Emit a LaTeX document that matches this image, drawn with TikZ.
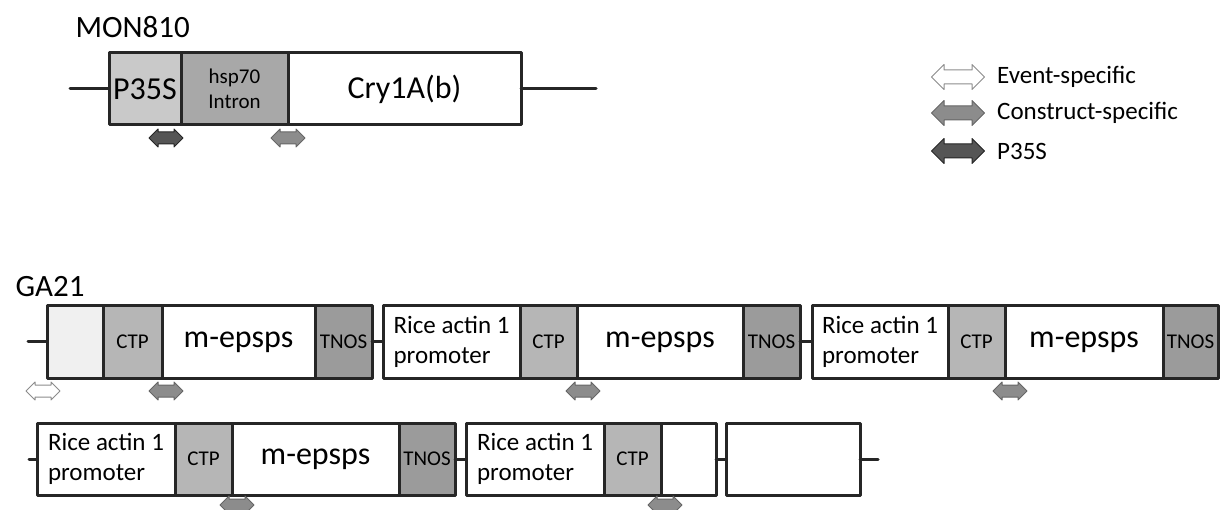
\documentclass[tikz,border=0pt]{standalone}
\usepackage{fontspec}
\setmainfont{Carlito}
\usetikzlibrary{shapes.arrows}
\definecolor{promgray}{RGB}{201,201,201}
\definecolor{introngray}{RGB}{168,168,168}
\definecolor{ctpgray}{RGB}{182,182,182}
\definecolor{tnosgray}{RGB}{155,155,155}
\definecolor{palegray}{RGB}{240,240,240}
\definecolor{constrgray}{RGB}{140,140,140}
\definecolor{p35sdark}{RGB}{85,85,85}
\begin{document}
\begin{tikzpicture}[x=1pt,y=-1pt,line join=round,line cap=round,
  cell/.style={draw=black!85, line width=3pt, minimum height=72, inner sep=0pt, outer sep=0pt, anchor=west, font=\fontsize{32}{36}\selectfont},
  tag/.style={font=\fontsize{21}{25}\selectfont, align=center},
  rice/.style={font=\fontsize{25}{30}\selectfont, align=left},
  title/.style={anchor=base west, font=\fontsize{31}{36}\selectfont},
  primer/.style={double arrow, draw, inner xsep=0pt, inner ysep=5.5pt, minimum height=34, minimum width=0pt, double arrow head extend=3pt, double arrow tip angle=90, line width=1pt},
  big/.style={minimum height=53, inner ysep=6.5pt, double arrow head extend=5.5pt},
  event/.style={fill=white, draw=black!45},
  constr/.style={fill=constrgray, draw=black!60},
  ppp/.style={fill=p35sdark, draw=black!85},
  link/.style={line width=3pt, draw=black!85}]
\useasboundingbox (0,0) rectangle (1220,510);

\node[title] (mon) at (72,38) {MON810};
\node[cell, fill=promgray, minimum width=72] (p35s) at (109,89) {P35S};
\node[cell, fill=introngray, minimum width=107, tag] (hsp) at (p35s.east) {hsp70\\Intron};
\node[cell, fill=white, minimum width=233] (cry) at (hsp.east) {Cry1A(b)\hspace{40pt}};
\coordinate (monL) at (70,89);
\coordinate (monR) at (596,89);
\draw[link] (monL) -- (p35s);
\draw[link] (cry) -- (monR);

\node[title] (ga) at (12,297) {GA21};
\node[cell, fill=palegray, minimum width=56] (blankA) at (47,342) {};
\node[cell, fill=ctpgray, minimum width=59, tag] (ctpA) at (blankA.east) {CTP};
\node[cell, fill=white, minimum width=153] (mepA) at (ctpA.east) {m-epsps};
\node[cell, fill=tnosgray, minimum width=57, tag] (tnosA) at (mepA.east) {TNOS};
\node[cell, fill=white, minimum width=137, rice] (riceB) at (383,342) {Rice actin 1\\promoter};
\node[cell, fill=ctpgray, minimum width=57, tag] (ctpB) at (riceB.east) {CTP};
\node[cell, fill=white, minimum width=166] (mepB) at (ctpB.east) {m-epsps};
\node[cell, fill=tnosgray, minimum width=57, tag] (tnosB) at (mepB.east) {TNOS};
\node[cell, fill=white, minimum width=136, rice] (riceC) at (812,342) {Rice actin 1\\promoter};
\node[cell, fill=ctpgray, minimum width=57, tag] (ctpC) at (riceC.east) {CTP};
\node[cell, fill=white, minimum width=158] (mepC) at (ctpC.east) {m-epsps};
\node[cell, fill=tnosgray, minimum width=55, tag] (tnosC) at (mepC.east) {TNOS};

\node[cell, fill=white, minimum width=138, rice] (riceD) at (37,459) {Rice actin 1\\promoter};
\node[cell, fill=ctpgray, minimum width=57, tag] (ctpD) at (riceD.east) {CTP};
\node[cell, fill=white, minimum width=167] (mepD) at (ctpD.east) {m-epsps};
\node[cell, fill=tnosgray, minimum width=56, tag] (tnosD) at (mepD.east) {TNOS};
\node[cell, fill=white, minimum width=138, rice] (riceE) at (466,459) {Rice actin 1\\promoter};
\node[cell, fill=ctpgray, minimum width=57, tag] (ctpE) at (riceE.east) {CTP};
\node[cell, fill=white, minimum width=55] (blankE) at (ctpE.east) {};
\node[cell, fill=white, minimum width=134] (blankF) at (726,459) {};

\coordinate (gaL) at (28,342);
\coordinate (gbL) at (29,459);
\coordinate (gbR) at (878,459);
\draw[link] (gaL) -- (blankA);
\draw[link] (tnosA) -- (riceB);
\draw[link] (tnosB) -- (riceC);
\draw[link] (gbL) -- (riceD);
\draw[link] (tnosD) -- (riceE);
\draw[link] (blankE) -- (blankF);
\draw[link] (blankF) -- (gbR);

\foreach \n/\px/\py/\k in {pm/166/138/ppp, cm/288/138/constr, ea/43/391/event, ca/166/391/constr, cb/583/391/constr, cc/1010/391/constr, cd/237/505/constr, ce/665/505/constr}
  \node[primer, \k] (\n) at (\px,\py) {};

\foreach \n/\py/\k/\t in {lgEvent/77/event/Event-specific, lgConstr/113/constr/Construct-specific, lgP35S/151/ppp/P35S}{
  \node[primer, big, \k] (\n) at (958,\py) {};
  \node[anchor=west, inner sep=0pt, font=\fontsize{25}{30}\selectfont] (\n Text) at (997,\py) {\t};
}
\end{tikzpicture}
\end{document}
